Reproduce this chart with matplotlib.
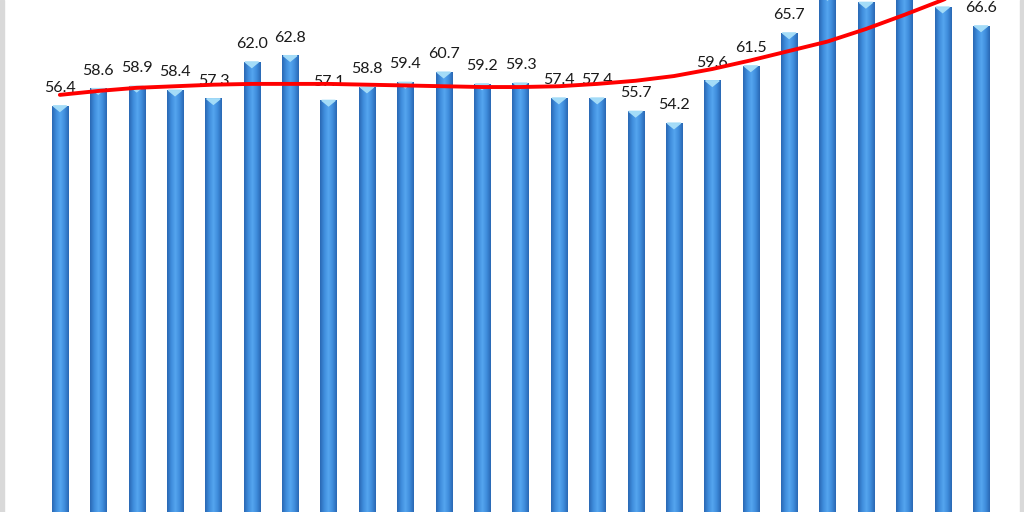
import matplotlib
matplotlib.use("Agg")
import matplotlib.pyplot as plt
import numpy as np
from matplotlib.colors import LinearSegmentedColormap
from matplotlib.patches import Polygon, Rectangle

plt.rcParams["font.family"] = ["Lato", "DejaVu Sans"]

# bar values (the four cut off at the top are estimated)
values = [56.4, 58.6, 58.9, 58.4, 57.3, 62.0, 62.8, 57.1, 58.8, 59.4,
          60.7, 59.2, 59.3, 57.4, 57.4, 55.7, 54.2, 59.6, 61.5, 65.7,
          70.6, 69.6, 71.0, 69.0, 66.6]
labels = ["56.4", "58.6", "58.9", "58.4", "57.3", "62.0", "62.8", "57.1",
          "58.8", "59.4", "60.7", "59.2", "59.3", "57.4", "57.4", "55.7",
          "54.2", "59.6", "61.5", "65.7", "70.6", "69.6", "71.0", "69.0",
          "66.6"]
trend = [57.8, 58.3, 58.7, 58.9, 59.1, 59.2, 59.2, 59.2, 59.1, 59.0,
         58.9, 58.8, 58.8, 58.9, 59.2, 59.6, 60.2, 61.1, 62.2, 63.4,
         64.6, 66.2, 68.0, 69.9, 72.0]

x = np.arange(len(values))
W = 0.42
YLO, YHI = 4.6, 69.9

fig = plt.figure(figsize=(10.24, 5.12), dpi=100)
ax = fig.add_axes([0, 0, 1, 1])
ax.set_xlim(-1.56, 25.12)
ax.set_ylim(YLO, YHI)
ax.axis("off")

# side borders of the cropped chart frame
for x0 in (0.0, 0.9965):
    fig.patches.append(Rectangle((x0, 0), 0.0035, 1, transform=fig.transFigure,
                                 color="#d9d9d9", zorder=0))

cmap = LinearSegmentedColormap.from_list(
    "bar", ["#2a68b4", "#3f8ddc", "#55a5ef", "#3f8ddc", "#2a68b4"])
grad = np.linspace(0, 1, 64).reshape(1, -1)

bars = ax.bar(x, values, width=W, bottom=YLO - 1, color="none",
              edgecolor="none", zorder=2)
for b, xi, v in zip(bars, x, values):
    im = ax.imshow(grad, cmap=cmap, aspect="auto", zorder=2,
                   extent=(xi - W / 2, xi + W / 2, YLO - 1, v))
    im.set_clip_path(b)
    ax.add_patch(Polygon([(xi - W * 0.42, v), (xi + W * 0.42, v),
                          (xi, v - 0.7)], closed=True,
                         color="#a4dcf8", zorder=3))

for xi, v, lab in zip(x, values, labels):
    ax.annotate(lab, (xi, v), xytext=(0, 10), textcoords="offset points",
                ha="center", va="baseline", fontsize=11.5, color="#1a1a1a",
                zorder=4)

ax.plot(x, trend, color="#ff0000", lw=2.8, zorder=5,
        solid_capstyle="round")

fig.savefig("out.png", dpi=100, facecolor="white")
